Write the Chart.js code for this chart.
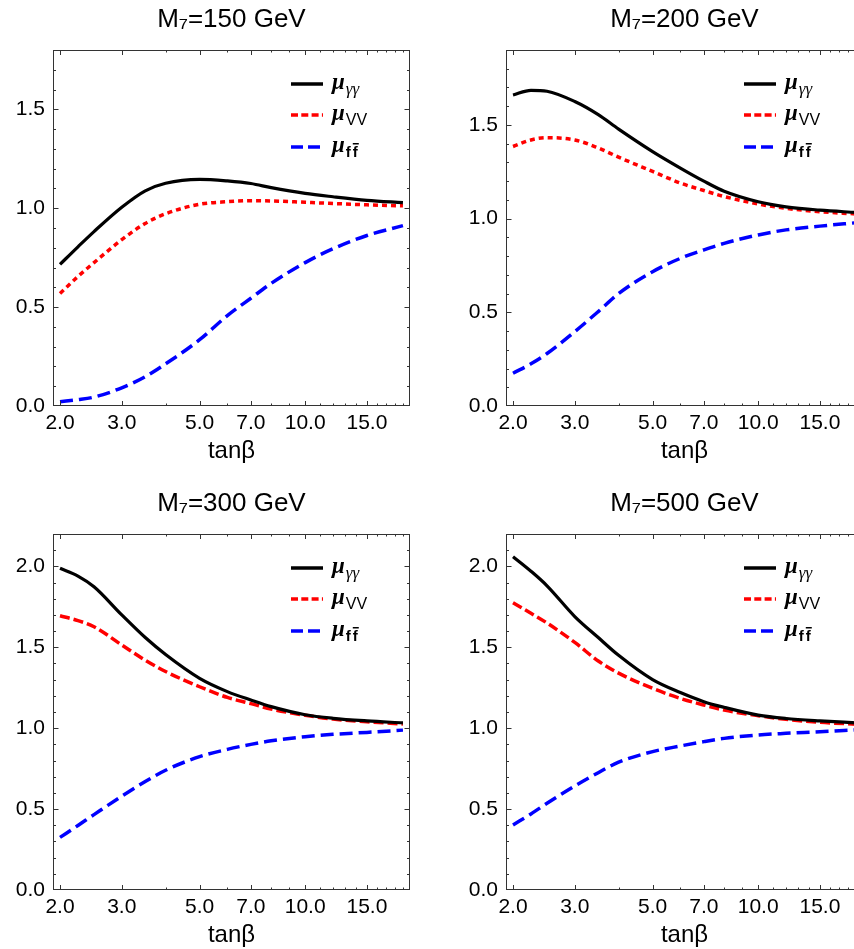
<!DOCTYPE html>
<html>
<head>
<meta charset="utf-8">
<script src="https://cdn.jsdelivr.net/npm/chart.js@4.4.1/dist/chart.umd.min.js"></script>
<style>
  html, body { margin: 0; padding: 0; background: #fff; overflow: hidden; width: 854px; height: 949px; }
  .panel { position: absolute; width: 430px; height: 470px; }
</style>
</head>
<body>
<div class="panel" style="left:0;top:0"><canvas id="c150" width="430" height="470"></canvas></div>
<div class="panel" style="left:453px;top:0"><canvas id="c200" width="430" height="470"></canvas></div>
<div class="panel" style="left:0;top:484px"><canvas id="c300" width="430" height="470"></canvas></div>
<div class="panel" style="left:453px;top:484px"><canvas id="c500" width="430" height="470"></canvas></div>
<script>
// tan(beta) sample points
const tanb = [2, 2.25, 2.5, 3, 3.5, 4, 5, 6, 7, 8, 10, 12, 15, 19];
const xTicks = [2, 3, 5, 7, 10, 15];
const xMinor = [4, 6, 8, 9, 11, 12, 13, 14, 16, 17, 18, 19];

// M7 = 150 GeV
const gg150 = [0.716, 0.805, 0.882, 1.005, 1.088, 1.126, 1.146, 1.138, 1.125, 1.104, 1.075, 1.058, 1.04, 1.028];
const vv150 = [0.569, 0.655, 0.725, 0.841, 0.923, 0.972, 1.02, 1.033, 1.038, 1.037, 1.03, 1.024, 1.017, 1.012];
const ff150 = [0.022, 0.032, 0.045, 0.092, 0.148, 0.213, 0.335, 0.457, 0.545, 0.62, 0.725, 0.795, 0.862, 0.912];

// M7 = 200 GeV
const gg200 = [1.66, 1.685, 1.68, 1.625, 1.555, 1.478, 1.358, 1.27, 1.2, 1.146, 1.09, 1.063, 1.045, 1.033];
const vv200 = [1.385, 1.42, 1.432, 1.42, 1.377, 1.328, 1.252, 1.19, 1.15, 1.118, 1.078, 1.055, 1.037, 1.025];
const ff200 = [0.175, 0.225, 0.28, 0.397, 0.504, 0.6, 0.717, 0.788, 0.833, 0.868, 0.913, 0.94, 0.96, 0.978];

// M7 = 300 GeV
const gg300 = [1.988, 1.94, 1.874, 1.70, 1.56, 1.455, 1.308, 1.226, 1.174, 1.133, 1.083, 1.061, 1.045, 1.033];
const vv300 = [1.695, 1.665, 1.627, 1.514, 1.42, 1.35, 1.256, 1.19, 1.152, 1.118, 1.08, 1.056, 1.04, 1.026];
const ff300 = [0.325, 0.399, 0.466, 0.58, 0.67, 0.74, 0.824, 0.869, 0.9, 0.922, 0.947, 0.962, 0.974, 0.988];

// M7 = 500 GeV
const gg500 = [2.06, 1.97, 1.88, 1.69, 1.56, 1.45, 1.30, 1.22, 1.164, 1.129, 1.081, 1.06, 1.045, 1.033];
const vv500 = [1.775, 1.71, 1.65, 1.53, 1.415, 1.34, 1.246, 1.184, 1.143, 1.112, 1.077, 1.055, 1.036, 1.025];
const ff500 = [0.402, 0.47, 0.536, 0.643, 0.725, 0.79, 0.855, 0.89, 0.917, 0.937, 0.958, 0.968, 0.978, 0.99];

const FONT = 'Liberation Sans';

// box frame with inward ticks on all four sides
const framePlugin = {
  id: 'frame',
  afterDatasetsDraw(chart) {
    const { ctx, chartArea: a, scales: { x, y } } = chart;
    ctx.save();
    ctx.strokeStyle = '#333';
    ctx.lineWidth = 1;
    ctx.strokeRect(a.left + 0.5, a.top + 0.5, a.right - a.left - 1, a.bottom - a.top - 1);
    ctx.beginPath();
    const tickX = (v, len) => {
      const p = Math.round(x.getPixelForValue(v)) + 0.5;
      ctx.moveTo(p, a.bottom); ctx.lineTo(p, a.bottom - len);
      ctx.moveTo(p, a.top); ctx.lineTo(p, a.top + len);
    };
    xTicks.forEach(v => tickX(v, 5));
    xMinor.forEach(v => tickX(v, 2.5));
    for (let i = 1; i * 0.1 < y.max - 1e-6; i++) {
      const len = i % 5 === 0 ? 5.5 : 3;
      const p = Math.round(y.getPixelForValue(i * 0.1)) + 0.5;
      ctx.moveTo(a.left, p); ctx.lineTo(a.left + len, p);
      ctx.moveTo(a.right, p); ctx.lineTo(a.right - len, p);
    }
    ctx.stroke();
    ctx.restore();
  }
};

// legend inside the plot, with subscripts
const legendPlugin = {
  id: 'muLegend',
  afterDraw(chart) {
    const { ctx, chartArea: a } = chart;
    const rows = [
      { color: '#000', dash: [], sub: ['γγ'], font: 'italic 17px "Liberation Serif"', off: 34 },
      { color: '#ff0000', dash: [7, 3.3], sub: ['VV'], font: '16px "' + FONT + '"', off: 65 },
      { color: '#0000ff', dash: [12, 5], sub: ['f', 'f'], font: 'bold 15px "' + FONT + '"', off: 97 }
    ];
    rows.forEach(r => {
      const yy = a.top + r.off;
      ctx.save();
      ctx.strokeStyle = r.color;
      ctx.lineWidth = 3.5;
      ctx.setLineDash(r.dash);
      ctx.beginPath();
      ctx.moveTo(a.left + 238, yy);
      ctx.lineTo(a.left + 270, yy);
      ctx.stroke();
      ctx.setLineDash([]);
      ctx.fillStyle = '#000';
      ctx.textBaseline = 'alphabetic';
      ctx.font = 'italic bold 23px "Liberation Serif"';
      let tx = a.left + 279;
      ctx.fillText('μ', tx, yy + 5);
      tx += ctx.measureText('μ').width + 1;
      ctx.font = r.font;
      r.sub.forEach((s, i) => {
        ctx.fillText(s, tx, yy + 10);
        const w = ctx.measureText(s).width;
        if (r.sub.length > 1 && i === r.sub.length - 1) {
          ctx.fillRect(tx, yy - 4, w + 1, 1.5);
        }
        tx += w + 2;
      });
      ctx.restore();
    });
  }
};

function series(vals) {
  return tanb.map((t, i) => ({ x: t, y: vals[i] }));
}

function makeChart(id, mass, yMax, gg, vv, ff, vvDash) {
  new Chart(document.getElementById(id), {
    type: 'line',
    data: {
      datasets: [
        { label: 'μγγ', data: series(gg), borderColor: '#000', borderWidth: 3.2 },
        { label: 'μVV', data: series(vv), borderColor: '#ff0000', borderWidth: 3.5, borderDash: vvDash },
        { label: 'μff̄', data: series(ff), borderColor: '#0000ff', borderWidth: 3.5, borderDash: [13, 6] }
      ]
    },
    options: {
      responsive: false,
      animation: false,
      layout: { padding: { left: 0, right: 20, top: 0, bottom: 0 } },
      elements: {
        point: { radius: 0 },
        line: { cubicInterpolationMode: 'monotone', fill: false }
      },
      plugins: {
        legend: { display: false },
        tooltip: { enabled: false },
        title: {
          display: true,
          text: 'M₇=' + mass + ' GeV',
          fullSize: false,
          color: '#000',
          font: { family: FONT, size: 26, weight: 'normal' },
          padding: { top: 4, bottom: 14.8 }
        }
      },
      scales: {
        x: {
          type: 'logarithmic',
          min: 1.91,
          max: 19.9,
          afterFit: s => { s.height = 64; },
          afterBuildTicks: s => { s.ticks = xTicks.map(v => ({ value: v })); },
          grid: { display: false, drawTicks: false },
          border: { display: false },
          ticks: {
            color: '#000',
            font: { family: FONT, size: 21 },
            padding: 5,
            autoSkip: false,
            maxRotation: 0,
            callback: v => Number(v).toFixed(1)
          },
          title: {
            display: true,
            text: 'tanβ',
            color: '#000',
            font: { family: FONT, size: 24 },
            padding: { top: 0, bottom: 4 }
          }
        },
        y: {
          min: 0,
          max: yMax,
          afterFit: s => { s.width = 53; },
          grid: { display: false, drawTicks: false },
          border: { display: false },
          ticks: {
            stepSize: 0.5,
            includeBounds: false,
            color: '#000',
            font: { family: FONT, size: 21 },
            padding: 8,
            callback: v => Number(v).toFixed(1)
          }
        }
      }
    },
    plugins: [framePlugin, legendPlugin]
  });
}

makeChart('c150', 150, 1.8, gg150, vv150, ff150, [5, 4]);
makeChart('c200', 200, 1.9, gg200, vv200, ff200, [5, 4]);
makeChart('c300', 300, 2.2, gg300, vv300, ff300, [10, 4]);
makeChart('c500', 500, 2.2, gg500, vv500, ff500, [10, 4]);
</script>
</body>
</html>
